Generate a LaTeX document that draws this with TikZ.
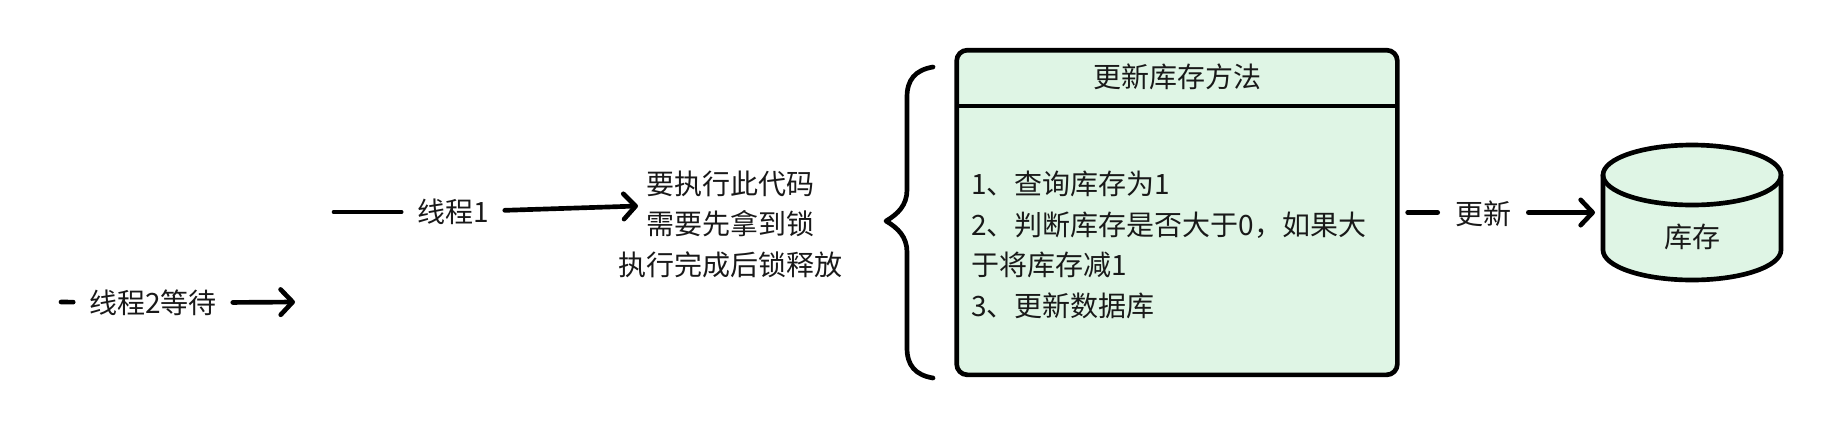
\documentclass[tikz,border=0pt]{standalone}
\usepackage{fontspec}
\setmainfont{Noto Sans CJK SC}
\usetikzlibrary{arrows.meta}
\definecolor{stockgreen}{HTML}{DFF5E5}
\tikzset{
	label text/.style={font=\fontsize{21}{30.4}\selectfont, text=black!90, inner sep=0pt, outer sep=12pt},
	heavy/.style={line width=3.5pt, line cap=round, line join=round},
	flow/.style={heavy, -{Straight Barb[length=9pt,width=19pt,round]}},
}

\begin{document}
\begin{tikzpicture}[x=0.75pt, y=-0.75pt]
	\useasboundingbox (0, 0) rectangle (1832, 426);
	% threads on the left
	\coordinate (t1start) at (334, 212);
	\coordinate (t1end) at (638, 206);
	\coordinate (t2start) at (61, 302);
	\coordinate (t2end) at (295, 302);
	\node[label text] (t1) at (453, 212) {线程1};
	\node[label text] (t2) at (153, 303) {线程2等待};
	\node[label text, align=center, outer sep=0pt] (rule) at (730, 224) {要执行此代码\\需要先拿到锁\\执行完成后锁释放};
	\draw[heavy] (t1start) -- (t1);
	\draw[flow] (t1) -- (t1end);
	\draw[heavy] (t2start) -- (t2);
	\draw[flow] (t2) -- (t2end);
	% brace in front of the method
	\draw[heavy] (933, 67) .. controls (915, 70) and (907, 80) .. (907, 97) -- (907, 190)
		.. controls (907, 205) and (898, 214) .. (886, 221)
		.. controls (898, 228) and (907, 237) .. (907, 252) -- (907, 348)
		.. controls (907, 365) and (915, 375) .. (933, 378);
	% method box
	\node[draw, heavy, fill=stockgreen, rounded corners=8pt, minimum width=330.5pt, minimum height=243.5pt, inner sep=0pt] (method) at (1177, 212.5) {};
	\coordinate (divleft) at (957, 106);
	\coordinate (divright) at (1397, 106);
	\draw[heavy, line cap=butt] (divleft) -- (divright);
	\node[label text, outer sep=0pt] (title) at (1177, 77) {更新库存方法};
	\node[label text, align=left, anchor=west, outer sep=0pt] (steps) at (971, 245) {1、查询库存为1\\2、判断库存是否大于0，如果大\\于将库存减1\\3、更新数据库};
	% database on the right
	\coordinate (stockwest) at (1603, 212.5);
	\draw[heavy, fill=stockgreen] (1603, 175) arc[x radius=89, y radius=30, start angle=180, end angle=360]
		-- (1781, 250) arc[x radius=89, y radius=30, start angle=0, end angle=180] -- cycle;
	\draw[heavy] (1603, 175) arc[x radius=89, y radius=30, start angle=180, end angle=0];
	\node[label text, outer sep=0pt] (stocktext) at (1692, 237) {库存};
	\node[label text, outer sep=13pt] (update) at (1483, 214) {更新};
	\draw[heavy, shorten <=6pt] (method.east) -- (update.west |- method.east);
	\draw[flow, shorten >=6pt] (update.east |- stockwest) -- (stockwest);
\end{tikzpicture}
\end{document}
